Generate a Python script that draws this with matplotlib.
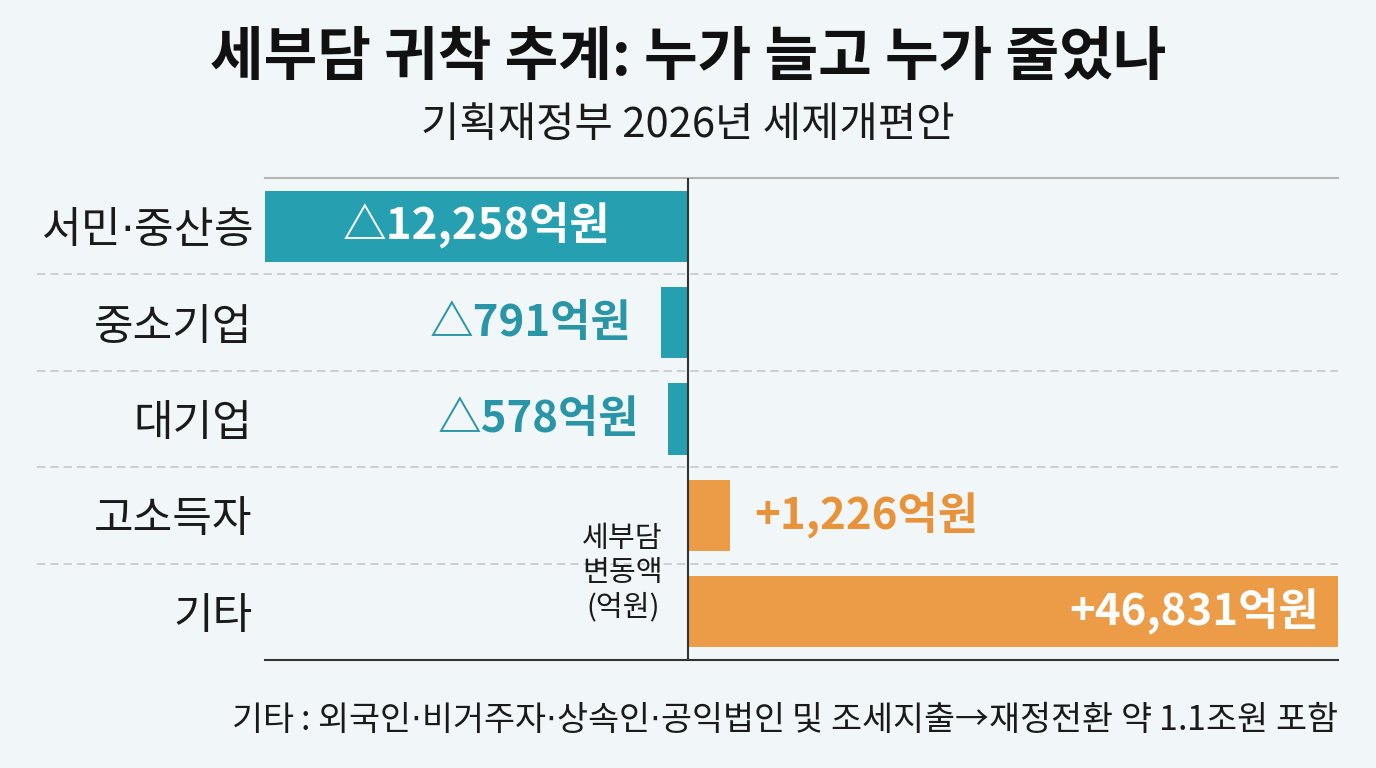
import matplotlib
matplotlib.use("Agg")
import matplotlib.pyplot as plt

plt.rcParams['font.family'] = ['Noto Sans CJK KR', 'DejaVu Sans']

# narrow middle dot (the CJK font draws U+00B7 full width)
dot = r"$\cdot$"

categories = ["서민" + dot + "중산층", "중소기업", "대기업", "고소득자", "기타"]
changes = [-12258, -791, -578, 1226, 46831]
labels = ["△12,258억원", "△791억원", "△578억원", "+1,226억원", "+46,831억원"]

title = "세부담 귀착 추계: 누가 늘고 누가 줄었나"
subtitle = "기획재정부 2026년 세제개편안"
axis_note = "세부담\n변동액\n(억원)"
footnote = ("기타 : 외국인" + dot + "비거주자" + dot + "상속인" + dot
            + "공익법인 및 조세지출→재정전환 약 1.1조원 포함")

bg = "#f1f6f8"
teal = "#26a0b0"
teal_text = "#2a95a6"
orange = "#ec9c47"
orange_text = "#e8923a"

fig = plt.figure(figsize=(13.76, 7.68), dpi=100, facecolor=bg)
ax = fig.add_axes([265 / 1376, 1 - 660 / 768, 1073 / 1376, 482 / 768])
ax.set_facecolor(bg)

y = list(range(len(categories)))
colors = [teal if v < 0 else orange for v in changes]
ax.barh(y, changes, height=0.74, color=colors, zorder=2)

ax.set_xlim(-12258, 18840)
ax.set_ylim(len(categories) - 0.5, -0.5)

ax.set_yticks(y)
ax.set_yticklabels(categories, fontsize=31, color="#1a1a1a")
ax.tick_params(axis='y', length=0, pad=9)
ax.set_xticks([])

for s in ["left", "right"]:
    ax.spines[s].set_visible(False)
ax.spines["top"].set_color("#b3b3b3")
ax.spines["top"].set_linewidth(1.5)
ax.spines["bottom"].set_color("#333333")
ax.spines["bottom"].set_linewidth(1.5)
ax.axvline(0, color="#333333", lw=1.5, zorder=3)

# dashed separators between rows, running under the category labels
for b in [0.5, 1.5, 2.5, 3.5]:
    ax.axhline(b, xmin=-0.2125, xmax=1, color="#c8c8c8", lw=1.2,
               ls=(0, (5, 3)), clip_on=False, zorder=1)

xmax = ax.get_xlim()[1]
for i, (v, lab) in enumerate(zip(changes, labels)):
    if i == 0:
        ax.text(v / 2, i, lab, ha="center", va="center", fontsize=31.5,
                fontweight="bold", color="white", zorder=4)
    elif v > xmax:
        ax.annotate(lab, xy=(xmax, i), xytext=(-14, 0), textcoords="offset points",
                    ha="right", va="center", fontsize=31.5, fontweight="bold",
                    color="white", zorder=4)
    elif v < 0:
        ax.annotate(lab, xy=(v, i), xytext=(-21, 0), textcoords="offset points",
                    ha="right", va="center", fontsize=31.5, fontweight="bold",
                    color=teal_text, zorder=4)
    else:
        ax.annotate(lab, xy=(v, i), xytext=(17, 0), textcoords="offset points",
                    ha="left", va="center", fontsize=31.5, fontweight="bold",
                    color=orange_text, zorder=4)

ax.annotate(axis_note, xy=(0, 3.6), xytext=(-47, 0), textcoords="offset points",
            ha="center", va="center", fontsize=21, color="#1a1a1a",
            linespacing=1.2, multialignment="center")

fig.text(0.5, 1 - 58 / 768, title, ha="center", va="center", fontsize=42,
         fontweight="bold", color="#111111")
fig.text(0.5, 1 - 125 / 768, subtitle, ha="center", va="center", fontsize=30,
         color="#1a1a1a")
fig.text(1338 / 1376, 1 - 720 / 768, footnote, ha="right", va="center",
         fontsize=24.3, color="#1a1a1a")

fig.savefig("out.png", dpi=100, facecolor=bg)
